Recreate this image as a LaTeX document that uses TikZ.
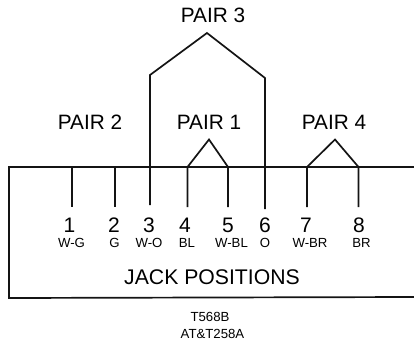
\documentclass[tikz,border=0pt]{standalone}
\usepackage{fontspec}
\setmainfont{Liberation Sans}
\tikzset{
  wire/.style={line width=1.7pt,line join=miter,line cap=butt,color=black!92},
  big/.style={font=\fontsize{20.8}{22}\selectfont,inner sep=0pt,anchor=center,text=black},
  num/.style={font=\fontsize{21}{22}\selectfont,inner sep=0pt,anchor=center,text=black},
  small/.style={font=\fontsize{13.2}{14}\selectfont,inner sep=0pt,anchor=center,text=black},
}
\begin{document}
\begin{tikzpicture}[x=1pt,y=-1pt]
\useasboundingbox (0,0) rectangle (414,342);
% jack outline
\coordinate (tr) at (414,167);
\coordinate (tl) at (9,167);
\coordinate (bl) at (9,298);
\coordinate (br) at (414,297);
\draw[wire] (tr) -- (tl) -- (bl) -- (br);
% pin ends
\coordinate (t1) at (72,167);  \coordinate (p1) at (72,207);
\coordinate (t2) at (115,167); \coordinate (p2) at (115,207);
\coordinate (t3) at (150,75);    \coordinate (p3) at (150,205);
\coordinate (t4) at (187.5,167); \coordinate (p4) at (187.5,207);
\coordinate (t5) at (228,167);   \coordinate (p5) at (228,207);
\coordinate (t6) at (265,78);    \coordinate (p6) at (265,209);
\coordinate (t7) at (307,167);   \coordinate (p7) at (307,207);
\coordinate (t8) at (358.5,167); \coordinate (p8) at (358.5,207);
\coordinate (a3) at (207,33);
\coordinate (a1) at (209,139.5);
\coordinate (a4) at (335,139.5);
\draw[wire] (t1) -- (p1);
\draw[wire] (t2) -- (p2);
\draw[wire] (p3) -- (t3) -- (a3) -- (t6) -- (p6);
\draw[wire] (p4) -- (t4) -- (a1) -- (t5) -- (p5);
\draw[wire] (p7) -- (t7) -- (a4) -- (t8) -- (p8);
% labels
\node[big] (pair3) at (213,15) {PAIR 3};
\node[big] (pair2) at (90,122) {PAIR 2};
\node[big] (pair1) at (209,122) {PAIR 1};
\node[big] (pair4) at (334,122) {PAIR 4};
\node[num] (n1) at (69.5,225) {1};
\node[num] (n2) at (114,225) {2};
\node[num] (n3) at (149,225) {3};
\node[num] (n4) at (185,225) {4};
\node[num] (n5) at (228,225) {5};
\node[num] (n6) at (265,225) {6};
\node[num] (n7) at (306,225) {7};
\node[num] (n8) at (359,225) {8};
\node[small] (c1) at (71.5,243) {W-G};
\node[small] (c2) at (114.5,243) {G};
\node[small] (c3) at (149,243) {W-O};
\node[small] (c4) at (187,243) {BL};
\node[small] (c5) at (231.5,243) {W-BL};
\node[small] (c6) at (265,243) {O};
\node[small] (c7) at (310,243) {W-BR};
\node[small] (c8) at (361.5,243) {BR};
\node[font=\fontsize{21.2}{22}\selectfont,inner sep=0pt,text=black] (jack) at (212,277) {JACK POSITIONS};
\node[small] (t568) at (210,317) {T568B};
\node[small] (att) at (212.5,334) {AT\&T258A};
\end{tikzpicture}
\end{document}
